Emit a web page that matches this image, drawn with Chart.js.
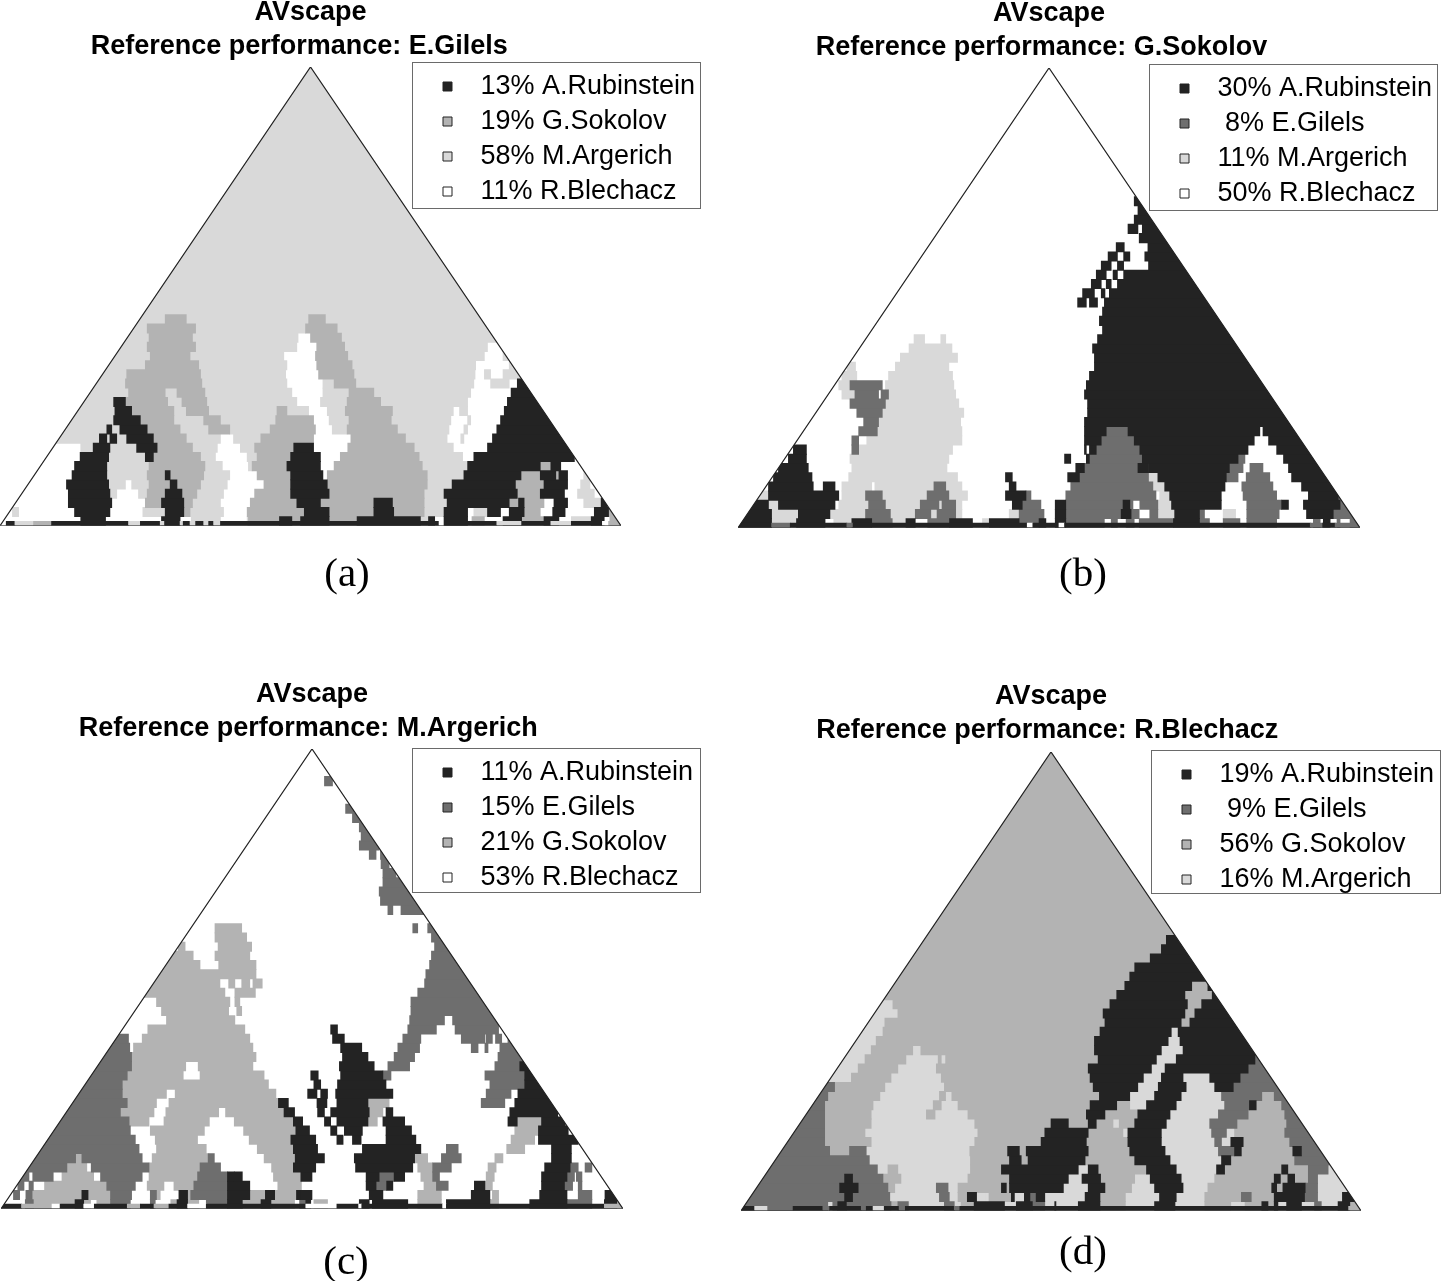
<!DOCTYPE html>
<html>
<head>
<meta charset="utf-8">
<script src="https://cdn.jsdelivr.net/npm/chart.js@4/dist/chart.umd.min.js"></script>
<style>
html, body { margin: 0; background: #fff; overflow: hidden; width: 1441px; height: 1281px; }
canvas { position: absolute; }
</style>
</head>
<body>
<canvas id="panelA"></canvas>
<canvas id="panelB"></canvas>
<canvas id="panelC"></canvas>
<canvas id="panelD"></canvas>
<script>
'use strict';

// performer codes used in the row strings
var codes = ['K', 'D', 'G', 'L', 'W']
var performers = ['A.Rubinstein', 'E.Gilels', 'G.Sokolov', 'M.Argerich', 'R.Blechacz']
var shades = ['#232323', '#6e6e6e', '#b3b3b3', '#d9d9d9', '#ffffff']

// trailing blanks: the second title line is off centre in the original
var referenceA = 'E.Gilels   '
var referenceB = 'G.Sokolov  '
var referenceC = 'M.Argerich '
var referenceD = 'R.Blechacz '

var legendA = ['K', 'G', 'L', 'W']
var legendB = ['K', 'D', 'L', 'W']
var legendC = ['K', 'D', 'G', 'W']
var legendD = ['K', 'D', 'G', 'L']

var sharesA = [13, 19, 58, 11]
var sharesB = [30, 8, 11, 50]
var sharesC = [11, 15, 21, 53]
var sharesD = [19, 9, 56, 16]

// one string per row, bottom row first: performer code + x where that run ends
var baseA = 'W1 K2.4 L5.4 G8.3 K20.7 L22.6 K25.8 L26.5 K29 L29.5 K30.6 L31.5 K32.8 L33.6 K34.4 L35.5 K70.7 W71.5 K80 L84 K88.7 L92 K97 W98 G100'
var rowsA = [
  'W13 K17 W26 K29 W30.8 L35.5 W39.8 L40 G45 K47 G48.4 K53 G57.5 K67.7 L69 K70 W71.5 K75.3 W76 G78 W81 K84 G87.6 K90 W92 L95.2 K97.3 W98.2 G100',
  'W2 L3 W12 K17.7 W23 L26.6 K29.6 G30.6 L36 W39.8 G49 K53 G60.2 K63.4 G68.3 L71.5 K75.3 W76.3 L78.5 K80.6 W82 K84.4 G87 W89 K91 W95.7 K98 G100',
  'W11 K18 W23.4 G26 K29.6 G31 L35.5 W40.3 G47.8 K51.6 G60.2 K63.2 G68.3 L72 K82 G83.5 K84.4 G87.6 W89.2 K91.4 W94 L96.8 K97.8 W100',
  'W11 K17.7 L18.8 W22.3 L23.7 G26.6 K29.3 G31.7 L36 W41 G46.8 K53 G68.3 L71.5 K83.3 G87 K90.9 W93 L95.7 W100',
  'W10.7 K17.5 L20.2 W21.2 L24 G27.4 K28.5 G32.3 L36.6 W42.5 G46.8 K52.7 G68.8 L72.8 K83 G87.6 K91.4 W93.5 L95 W100',
  'W11.6 K17.2 L23.7 G26.6 K27.4 G32.8 L37 W41.4 G46.8 K52 W52.7 G68.8 L74.7 K83.9 G87 K89.5 G90 K91.4 W94 L95 W100',
  'W12 K17.2 L24 G33 L35.8 W40 L40.6 G46.2 K51.6 W53.8 G68 L75.3 K87 G88.7 K90.3 W100',
  'W12.9 K17.5 L23.4 K24.7 G32.3 L34.7 W39.8 L41.4 G46.8 K51.6 W54.8 G67.5 L74.5 W76.3 K92.5 W100',
  'W13 L15 K17.7 L22 K25.3 G31 L35 W38.7 L41 G47.3 K50.5 W56 G66.7 L73 W78.5 K100',
  'L16 K17.2 L17.7 K18.8 L20.4 K24.7 G30 L35.5 W37.6 L42 G50.5 W56.5 G65.3 L72 W74.2 L74.7 W79.3 K100',
  'L17.2 K18 L19.3 K23.7 G29 L33.6 G37 L43.5 G50.8 W53.5 L55.9 G64 L72.3 W74.7 L75.3 W80 K100',
  'L18.3 K22.6 G28 L32.8 G35.5 L44.4 G50.5 W53 L56.2 G63 L72.6 W75.3 L75.8 W80.6 K100',
  'L18.5 K21.2 G28 L30 G33.6 L44.6 G46.2 L49.7 W52.7 L55.6 G63.2 L73 W74 L75.3 W81.2 K100',
  'L18.3 K20.2 G27 L29.3 G33.3 L47.8 W51.6 L55.9 G61.3 L75.3 W81.7 K100',
  'L20.7 G26.6 L28.5 G33 L47 W52 L56.2 G60.2 L75.8 W82.3 K100',
  'L20.2 G32.5 L46.2 W52 L53.8 G57.3 L76.3 W79 L82 W83.3 K100',
  'L20.4 G32.3 L46 W51.3 G57 L76.5 W78 L79 W81 L100',
  'L23.4 G32 L46.2 W51 G56.7 L76.6 W82 L100',
  'L24.2 G30.6 L45.7 W50.8 G56 L78 W81 L100',
  'L23.7 G31.5 L47.8 W51 G55.5 L78.5 W81 L100',
  'L24 G31 L48 W50 G55 L100',
  'L23.7 G31.5 L49.2 G54.3 L100',
  'L26.6 G30 L49.7 G52.4 L100',
  'L100', 'L100', 'L100', 'L100', 'L100', 'L100', 'L100', 'L100', 'L100', 'L100', 'L100',
  'L100', 'L100', 'L100', 'L100', 'L100', 'L100', 'L100', 'L100', 'L100', 'L100', 'L100',
  'L100', 'L100', 'L100', 'L100', 'L100'
]

var baseB = 'K5.4 D8.4 K17.5 D18.5 K46.5 W47.4 K51.6 W52.5 K92 D94 K96 D100'
var rowsB = [
  'K5.4 L9.4 K14 W15.4 L18.3 K21.5 D24.8 L27 K28.5 W30.5 D34 K37.7 W39.3 L40.4 K45.2 D48.4 K49.5 W51 K52.7 D58.9 W60 D61 W62.4 D63.7 W64.5 D70 K74.2 D75.8 W78 D80.7 W81.8 D86.6 W92.5 D93.6 W94.1 K95.2 W96.3 D96.8 W98.4 D100',
  'K5.4 L9.7 K14.8 W15 L20.5 D24.5 L28.5 D31 L32 D35 L36 W43.6 L45.2 D49.2 W51 K52.7 D61.6 K63.2 D64.5 W66.2 D67.5 L70.2 K74.2 D75 W78 L80 W81.8 D87 W91.4 K95.7 D100',
  'K4.9 L6.5 K15.6 W16.2 L21 D23.7 L29.3 D32.3 L32.8 D35 L36 W44.1 K45.7 D48.7 W51 K52.7 D61.9 K63 D63.5 W64.6 D67.5 L69.7 K77.7 W81.8 D87.4 K88.5 W90.9 K96.8 D100',
  'L4.9 K16.2 W16.7 L20.5 D23.2 L30.4 D33.9 L36.9 W43 K46.3 D47.1 W52.7 D67.2 W67.8 L69.4 K77.7 W81.2 D86.6 W91.7 K96.5 D100',
  'W4.9 K12.1 W13.7 K15.6 W16.7 L21.5 W22 L31.5 D33.4 L36 W43.6 K44.7 W53.5 D66.7 L68.6 K78.3 W81 D86 W90.6 K100',
  'W5.7 K11.9 W17.8 L35.3 W43 K44.1 W53 K54.9 D66 L67.5 K78.5 D80.4 W81.7 D85.5 W89 K100',
  'W6.5 K11.3 W18.3 L33.6 W54.3 K55.7 D64.3 K66 K79 D81.2 W82.3 D84.4 W88.5 K100',
  'W8.1 K11 W18 L33.9 W52.5 K53.5 W56 K56.5 D65 K80.4 D81.5 W87.7 K100',
  'W8.9 K11 W18.3 D19.4 L34.5 W55.7 K56 W56.5 K57.6 D64.6 K82 W86.6 K100',
  'W18.3 D19.4 W20.7 L36 W55.7 K58.4 D63.7 K83 W85.3 K100',
  'W19.4 D22.4 L36 W55.7 K59.2 D62.7 K83.9 W84.4 K100',
  'W20.2 D22.6 L35.8 W55.7 K100',
  'W19.1 D23.2 L36.3 W56.2 K100',
  'W18 D23.7 L35.5 W56.2 K100',
  'W16.7 L18.8 D22.6 W23 D24.2 L35 W55.7 K100',
  'W16.2 L18 D23.2 W23.7 L34.7 W56 K100',
  'W16.7 L19.1 W24.2 L34.5 W56.5 K100',
  'W17.5 L18.9 W25.3 L33.9 W57.3 K100',
  'W26.1 L35.3 W57.3 K100',
  'W27.5 L34.4 W57 K100',
  'W28.3 L30 W32.6 L33.4 W57.8 K100',
  'W58.6 K100',
  'W58.1 K100',
  'W58.6 K100',
  'W54.6 K56 W56.5 K57.8 W58.9 K100',
  'W55.4 K57.3 W58.4 K59 W59.7 K100',
  'W56.8 K58.4 W59.2 K60 W61 K100',
  'W57.6 K59.2 W60.3 K61 W62 K100',
  'W58.4 K60 W61 K62 W66 K100',
  'W59.5 K61 W62 K63 W65.4 K100',
  'W60.8 K62.1 W65.9 K100',
  'W64.5 K100',
  'W62.7 K64.3 W65 K100',
  'W63.7 K100',
  'W64.3 K100',
  'W63.7 K100',
  'W100', 'W100', 'W100', 'W100', 'W100', 'W100', 'W100',
  'W100', 'W100', 'W100', 'W100', 'W100', 'W100', 'W100'
]

var baseC = 'K3.3 G8.2 W9.5 K13.3 W15 K20.3 G22.4 K24.6 G27 K30 W33 K49 W54 K57.5 W58 K71 W71.6 K97 G100'
var rowsC = [
  'W3.9 D5.2 G11.9 K13.3 G14.4 W15.4 G17.6 D20.8 W24 D24.8 W27.3 G28.3 K30 G31.8 W33 D36.4 K38.8 G41.8 K43.4 G47.2 W48 D49 K49.8 W50.3 G52.5 W57.6 K59.2 W59.7 K65.4 W67 G70.8 W71.6 K78.6 G80 W85 K91 D95 W97 K99 G100',
  'W2 D3 W4 D5 G13 K14 G17.6 D21 W24 D25 G25.6 W28.6 K30 G30.5 D36.4 K40 G42.5 K44 G47.5 K48.2 K50 W59.2 K61.4 W67 G70.8 W75.6 K78.6 W79 G80 W86.6 K91 W92.8 D95 W97.1 K99.3 G100',
  'W2.7 D3.7 W4.5 D5.2 W7 G17 D21.6 W23.5 G26.2 W27.8 G31 D36.4 K40 W44.5 G48.3 W58.7 K60.3 D62 K63 W68 G70 D71.9 W76.1 K77.8 G79 W86.9 K90.6 D91.9 W92.8 D93.4 W100',
  'W3 D4.5 W5.1 D8.4 W9.8 G14.9 W16 D22.7 W23.8 G31.6 D36.4 K37.5 K38.8 W43.8 G48.2 K50 W58.7 K60.8 D63.2 K64.9 W67.5 G69.4 D70.5 W78 G79.3 W86.9 K91 D92.2 W92.5 D93.4 W100',
  'D10.6 G13.8 W14.5 D23.8 G32 D35.3 W43.5 G47 K50.6 W57 K66.2 W67 G69.4 D72.4 W78.3 G79.6 W87.4 K91.5 D92.8 W93.9 D95 W100',
  'D12 G13 D22.7 W24.3 G33.3 D34.3 W42.3 G47.3 K52 W56.8 K66.5 G68.6 W70.8 D74 W79.4 G80.7 W88.5 K91.7 W100',
  'D22.2 W25 G33 W41.2 G47 K50.9 W58.1 K67.5 W71.6 D73.5 W81.3 G84.2 W88.5 K91.7 W100',
  'D21.6 W24.8 G31.6 W39.9 G46.6 K50.6 W54 K55 W56.5 K57.9 W61.9 K66.7 W82 G85.8 W86.4 K92.8 W100',
  'D20.8 W24 G32.7 W39 G47.4 K49.6 W53 K54 W55.2 K58.1 W61.9 K66 W82.6 G86.4 K91.2 W100',
  'D20.6 G23.8 W26.2 G33.5 W37.5 G47 K48.5 W52 K53 W54 K59 G60.5 W61.4 K64.9 W81.5 K83 G86.9 K90.7 W100',
  'D19.2 G24.6 W26.5 G35 W36.1 G45.5 K47.2 W50.9 K52 W53 K59.2 G61.4 W61.9 K63 W81.8 K89.5 W100',
  'D20.3 G25 W27 G44.6 K46.2 W50.8 K52.4 W54 K59 G62.4 W77.2 D81 W82.6 K100',
  'D19.5 G26.6 W28 G44.2 W49.3 K50.8 W51.4 K52.5 W53.8 K63 W78 D82 W83.1 K100',
  'D19.5 G43 W50.3 K51.4 W54.1 K61.9 W78.6 D84.2 K100',
  'D20.3 G29.3 W32 G42.3 W49.8 K51 W54.6 K61.4 D62.7 W77.8 D84.2 K100',
  'D21 G29.7 W31.7 G40.5 W54.4 K60 W62.2 D65.7 W79.4 D83.4 K100',
  'D21 G41 W54.9 K59 W63.2 D66.5 W79.9 D84.7 W100',
  'D20.7 W21.3 G40.5 W54.6 K58 W63.8 D67.3 W75.6 D76.7 W77.8 D78.3 W80.2 D84 W100',
  'D20.5 W22.7 G40 W53.3 K55.2 W64.6 D67.5 W74 D77.8 W78 D79 W79.5 D80.5 W81.5 D83 W100',
  'W23.6 G39.2 W53 K54.1 W65.4 D70 W73 D80 W100',
  'W26.6 G37.6 W65.7 D71.3 W72.6 D81 W100',
  'W25.8 G36.6 W37.9 G38.7 W65.9 D100',
  'W25 G36.8 W37.6 G38.4 W65.9 D100',
  'G36 W37.6 G40.9 W67 D100',
  'G35.2 W36.6 G37.6 W38.7 G40 W40.5 G42 W68.1 D100',
  'G41 W68.3 D100',
  'G32 W35 G41 W68.9 D100',
  'G30.9 W34.4 G40 W69.2 D100',
  'W28.5 G29.6 W34.9 G40.3 W69.7 D100',
  'W34.4 G39.5 W69.2 D100',
  'W34.4 G38.7 W66.2 D67 W68.6 D100',
  'W70 D100',
  'W62.2 D63 W64.3 D68.1 W100',
  'W61 D67 W100',
  'W60.8 D66.2 W100',
  'W61.4 D64.9 W100',
  'W61.4 D63.5 W100',
  'W61.1 D62.4 W100',
  'W59.2 D60.3 W61 D100',
  'W57.6 D60.8 W100',
  'W57.9 D60 W100',
  'W57.6 D59.4 W100',
  'W56.5 D57.9 W100',
  'W55.4 D56.8 W100',
  'W100', 'W100',
  'W52 D53.3 W100',
  'W100', 'W100', 'W100'
]

var baseD = 'K2.2 L4.3 D8.4 K13.2 D14.3 K19.4 D20.2 K21.3 L23.1 K25.5 D26.5 K34.4 D35.3 K98 G100'
var rowsD = [
  'D14 L14.8 D15.6 K17 D24.2 G25.3 D27 L32.8 D34.4 L35.5 G37.6 K42.5 L44.4 K47 D49 L50.6 K50.8 L54.4 K57.9 G62 L66.7 K70 L74.8 G79 L81.3 G84 K85 G86 K86.6 L88 K90.4 L92.5 D93.6 L96.3 K98.2 G100',
  'D16.7 K18 D24 L32 D33.6 L35 G36.5 K38 L39.5 L40 G43.6 K44.1 L45.7 K46.6 D47.6 K49 L55.5 K57.9 G62 L67.5 K70.2 L74.8 G80.7 D82.3 G86 K90.9 D93 L97 K99 G100',
  'D15.9 K18.9 D23.7 G24.8 L31.5 D33.4 L35 G42 K42.8 G43.3 K52 L56 K58.7 G63 L66.7 K71.3 L75.3 G85.6 K86.4 G87.4 K91 D93 L100',
  'D16.7 K18 D22.9 G25.8 L36.6 G43.3 K52.8 L55 K58 G63.5 L65.7 L66 K71 L76.4 G86 K87 G88.2 K89.3 G91.5 D93 L100',
  'D22 L23.7 G25.3 L37 G42 K54.4 L56 K57.6 G65.4 K70.2 L76.7 K78 G87.2 K88.2 G91.5 D94.7 L100',
  'D20.7 L37 G43.3 K45.2 G46.3 K55.5 G63.5 K69.2 L77.5 K79 G89.3 D100',
  'D14.3 G17.5 D20.2 L36.9 G43 K44.9 G46 K56 G62.7 K68.4 L77 D79.6 K80.7 G89 K90.4 D100',
  'D13.5 G21 L37.7 G48.4 K55.7 G62.4 K67.8 L76.4 D77.5 L79 K81 G88.5 D100',
  'D13.5 G20 L38.2 G49 K56 G61.6 L62.4 K67.8 L75.9 D78.3 L79.6 G87.7 D100',
  'D13.5 G21 L37.7 G50 K52.8 G56 K57.3 G60 L61 G63.5 K68.6 L75.6 D80 G88 D100',
  'D13.5 G21 L29.9 G31.3 L36.6 G55.7 K58.7 G64 K69.2 L77 D81.8 G87.7 D100',
  'D13.5 G21.3 L31 G32.3 L35 G56.3 K60.6 G62.7 L65.4 K70.2 L78 D82 K83.1 G87.2 D100',
  'D14 G22.4 L32 G33 L34 G57.8 K62.7 L66.7 K71 L77.5 D84 G86 D100',
  'D15.1 G23.2 L32.8 G56.8 K64 L67.3 K71.8 L76.4 K79.4 D100',
  'L17.8 G24.2 L32.3 G56.3 K64.9 L67.8 K71.3 L75.6 K80.5 D100',
  'L18.9 G25.3 L31.5 G56 K66.2 L68.4 K81.8 D100',
  'L20 G26.6 L31.8 G32.3 L33 G57.6 K67 L70.2 K82.9 D100',
  'L21 G27.7 L29 G57 K67.8 L71.3 K100',
  'L21.8 G57 K68.9 L70.8 K100',
  'L22.9 G57.9 K69.4 L70.5 K100',
  'L23.2 G58.7 K71 G72.4 K100',
  'L25.3 G58.4 K71.6 G73.2 K100',
  'L24.5 G59.5 K72 G74.3 K100',
  'G60.6 K71.6 G76 K100',
  'G61.9 K72.7 G75.3 K100',
  'G62.7 K100',
  'G63.5 K100',
  'G66 K100',
  'G67.8 K100',
  'G68.6 K100',
  'G100', 'G100', 'G100', 'G100', 'G100', 'G100', 'G100', 'G100', 'G100', 'G100',
  'G100', 'G100', 'G100', 'G100', 'G100', 'G100', 'G100', 'G100', 'G100', 'G100'
]

// where each panel sits on the page
var panelBoxes = {
  panelA: { left: 0, top: -4, width: 702, triangle: 621, apex: 67, base: 525, caption: 575, captionX: 347, boxX: 412, boxY: 62, boxW: 288, boxH: 146 },
  panelB: { left: 738, top: -3, width: 702, triangle: 622, apex: 68, base: 527, caption: 575, captionX: 1083, boxX: 1149, boxY: 64, boxW: 288, boxH: 146 },
  panelC: { left: 1, top: 678, width: 702, triangle: 622, apex: 749, base: 1208, caption: 1263, captionX: 346, boxX: 412, boxY: 748, boxW: 288, boxH: 144 },
  panelD: { left: 741, top: 680, width: 700, triangle: 620, apex: 752, base: 1210, caption: 1253, captionX: 1083, boxX: 1151, boxY: 750, boxW: 289, boxH: 143 }
}

function shadeOf(code){
    return shades[codes.indexOf(code)]
}

function nameOf(code){
    return performers[codes.indexOf(code)]
}

function runsOf(row){
    let start = 0
    return row.split(' ').map((token) => {
        let run = { code: token[0], from: start, to: parseFloat(token.slice(1)) }
        start = run.to
        return run
    })
}

// triangle clip, so the rows end on the edge of the plot
var triangleClip = {
    id: 'triangleClip',
    beforeDatasetDraw(chart, args){
        if(args.meta.type != 'bar') return
        let x = chart.scales.x, y = chart.scales.y, ctx = chart.ctx
        ctx.save()
        ctx.beginPath()
        ctx.moveTo(x.getPixelForValue(0), y.getPixelForValue(0))
        ctx.lineTo(x.getPixelForValue(100), y.getPixelForValue(0))
        ctx.lineTo(x.getPixelForValue(50), y.getPixelForValue(50))
        ctx.closePath()
        ctx.clip()
    },
    afterDatasetDraw(chart, args){
        if(args.meta.type == 'bar') chart.ctx.restore()
    }
}

// legend box and caption do not sit where Chart.js would put them
var placement = {
    id: 'placement',
    afterLayout(chart, args, opts){
        let box = opts.box
        let legend = chart.legend
        legend.left = box.boxX - box.left + 23
        legend.top = box.boxY - box.top + 3
        legend.right = legend.left + legend.width
        legend.bottom = legend.top + legend.height
        let caption = chart.boxes.find((b) => b.options && b.options.text == opts.captionText)
        let shift = box.captionX - box.left - box.triangle / 2
        caption.left += shift
        caption.right += shift
    },
    afterDraw(chart, args, opts){
        let box = opts.box
        let ctx = chart.ctx
        ctx.save()
        ctx.strokeStyle = '#6a6a6a'
        ctx.lineWidth = 1
        ctx.strokeRect(box.boxX - box.left + 0.5, box.boxY - box.top + 0.5, box.boxW, box.boxH)
        ctx.restore()
    }
}

function drawPanel(id, reference, captionText, legendCodes, shares, baseRow, rows){
    let box = panelBoxes[id]
    let canvas = document.getElementById(id)
    canvas.width = box.width
    canvas.height = box.caption - box.top + 25
    canvas.style.left = box.left + 'px'
    canvas.style.top = box.top + 'px'

    let datasets = legendCodes.map((code, i) => {
        let pad = shares[i] < 10 ? '   ' : '  '
        return {
            label: pad + shares[i] + '% ' + nameOf(code),
            backgroundColor: shadeOf(code),
            borderWidth: 0,
            barThickness: 9.4,
            grouped: false,
            data: []
        }
    })
    rows.forEach((row, r) => {
        runsOf(row).forEach((run) => {
            datasets[legendCodes.indexOf(run.code)].data.push({ x: [run.from, run.to], y: r + 0.5 })
        })
    })

    let baseRuns = runsOf(baseRow)
    datasets.push({
        label: '',
        backgroundColor: baseRuns.map((run) => shadeOf(run.code)),
        barThickness: 4.6,
        grouped: false,
        order: -1,
        data: baseRuns.map((run) => ({ x: [run.from, run.to], y: 0.25 }))
    })
    datasets.push({
        type: 'scatter',
        label: '',
        showLine: true,
        pointRadius: 0,
        borderColor: '#222',
        borderWidth: 1.2,
        order: -2,
        data: [{ x: 0, y: 0 }, { x: 100, y: 0 }, { x: 50, y: 50 }, { x: 0, y: 0 }]
    })

    new Chart(canvas, {
        type: 'bar',
        data: { datasets: datasets },
        plugins: [triangleClip, placement],
        options: {
            indexAxis: 'y',
            responsive: false,
            animation: false,
            devicePixelRatio: 1,
            layout: { padding: { left: 0, right: box.width - box.triangle, top: 0, bottom: 0 } },
            scales: {
                x: { type: 'linear', min: 0, max: 100, display: false },
                y: { type: 'linear', min: 0, max: 50, display: false, offset: false }
            },
            plugins: {
                title: {
                    display: true,
                    text: ['AVscape', 'Reference performance: ' + reference],
                    color: '#000',
                    fullSize: false,
                    font: { family: 'Liberation Sans', size: 27, weight: 'bold', lineHeight: 1.24 },
                    padding: { top: 0, bottom: box.apex - box.top - 67 }
                },
                subtitle: {
                    display: true,
                    position: 'bottom',
                    text: captionText,
                    color: '#000',
                    font: { family: 'Liberation Serif', size: 41, weight: 'normal', lineHeight: 1.2 },
                    padding: { top: box.caption - box.base - 25, bottom: 0 }
                },
                legend: {
                    position: 'chartArea',
                    align: 'start',
                    labels: {
                        color: '#000',
                        font: { family: 'Liberation Sans', size: 27 },
                        boxWidth: 9,
                        boxHeight: 9,
                        padding: 8,
                        filter: (item) => item.text != '',
                        generateLabels: (chart) => chart.data.datasets.map((set, i) => ({
                            text: set.label,
                            fillStyle: set.backgroundColor,
                            strokeStyle: '#222',
                            lineWidth: 1,
                            datasetIndex: i
                        }))
                    }
                },
                tooltip: { enabled: false },
                placement: { box: box, captionText: captionText }
            }
        }
    })
}

drawPanel('panelA', referenceA, '(a)', legendA, sharesA, baseA, rowsA)
drawPanel('panelB', referenceB, '(b)', legendB, sharesB, baseB, rowsB)
drawPanel('panelC', referenceC, '(c)', legendC, sharesC, baseC, rowsC)
drawPanel('panelD', referenceD, '(d)', legendD, sharesD, baseD, rowsD)
</script>
</body>
</html>
